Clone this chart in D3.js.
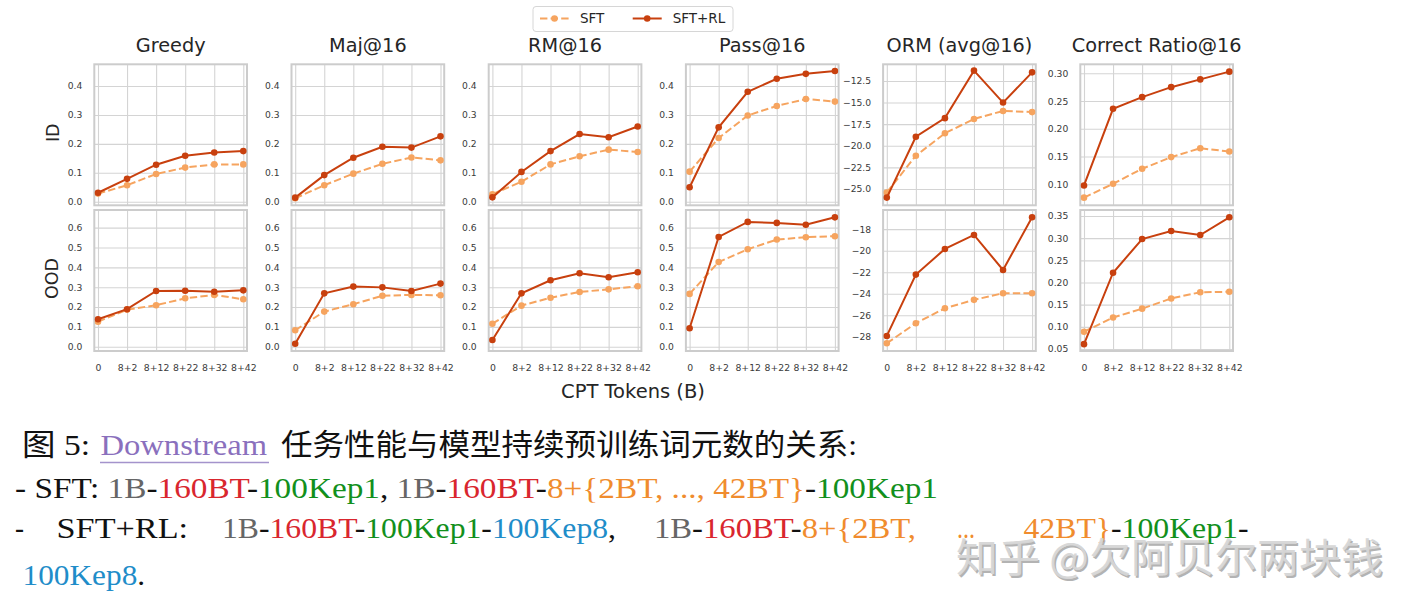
<!DOCTYPE html>
<html>
<head>
<meta charset="utf-8">
<script src="https://cdn.jsdelivr.net/npm/d3@7"></script>
<style>
  html, body { margin: 0; padding: 0; background: #fff; }
  svg { display: block; }
</style>
</head>
<body>
<svg id="chart" width="1420" height="616"></svg>
<script>
// ---------------- DATA ----------------
const categories = ["0", "8+2", "8+12", "8+22", "8+32", "8+42"];
const metrics = ["Greedy", "Maj@16", "RM@16", "Pass@16", "ORM (avg@16)", "Correct Ratio@16"];
const rowLabels = ["ID", "OOD"];
const seriesNames = ["SFT", "SFT+RL"];

// ID row (one inner array per metric, in metrics order)
const sftID = [
  [0.028, 0.057, 0.096, 0.118, 0.129, 0.129],
  [0.012, 0.057, 0.097, 0.131, 0.153, 0.143],
  [0.026, 0.069, 0.129, 0.157, 0.180, 0.172],
  [0.104, 0.220, 0.298, 0.331, 0.355, 0.346],
  [-25.4, -21.15, -18.55, -16.9, -15.97, -16.1],
  [0.076, 0.101, 0.128, 0.149, 0.165, 0.159]
];
const rlID = [
  [0.031, 0.079, 0.128, 0.159, 0.170, 0.175],
  [0.014, 0.092, 0.152, 0.190, 0.187, 0.226],
  [0.015, 0.103, 0.175, 0.234, 0.223, 0.260],
  [0.050, 0.257, 0.380, 0.425, 0.442, 0.452],
  [-26.0, -18.95, -16.8, -11.3, -15.0, -11.5],
  [0.098, 0.236, 0.257, 0.275, 0.289, 0.303]
];
// OOD row
const sftOOD = [
  [0.126, 0.187, 0.209, 0.244, 0.261, 0.239],
  [0.083, 0.177, 0.214, 0.257, 0.261, 0.259],
  [0.116, 0.207, 0.247, 0.276, 0.289, 0.305],
  [0.266, 0.427, 0.491, 0.540, 0.552, 0.557],
  [-28.6, -26.74, -25.35, -24.57, -23.95, -23.95],
  [0.089, 0.121, 0.141, 0.164, 0.178, 0.179]
];
const rlOOD = [
  [0.138, 0.189, 0.281, 0.282, 0.277, 0.284],
  [0.015, 0.269, 0.303, 0.299, 0.281, 0.318],
  [0.034, 0.269, 0.335, 0.370, 0.350, 0.375],
  [0.093, 0.553, 0.629, 0.624, 0.615, 0.652],
  [-27.92, -22.22, -19.84, -18.54, -21.79, -16.9],
  [0.061, 0.222, 0.298, 0.316, 0.307, 0.347]
];

// axis limits and ticks
const yLimID = [[-0.0124, 0.475], [-0.0124, 0.475], [-0.0124, 0.475], [-0.0124, 0.475], [-26.89, -10.57], [0.0622, 0.3162]];
const yLimOOD = [[-0.0217, 0.689], [-0.0217, 0.689], [-0.0217, 0.689], [-0.0217, 0.689], [-29.32, -16.22], [0.0455, 0.3635]];
const ticksShareID = [0, 0.1, 0.2, 0.3, 0.4];
const ticksOrmID = [-25, -22.5, -20, -17.5, -15, -12.5];
const ticksCrID = [0.10, 0.15, 0.20, 0.25, 0.30];
const ticksShareOOD = [0, 0.1, 0.2, 0.3, 0.4, 0.5, 0.6];
const ticksOrmOOD = [-28, -26, -24, -22, -20, -18];
const ticksCrOOD = [0.05, 0.10, 0.15, 0.20, 0.25, 0.30, 0.35];
const fmtID = [".1f", ".1f", ".1f", ".1f", ".1f", ".2f"];
const fmtOOD = [".1f", ".1f", ".1f", ".1f", "d", ".2f"];

// ---------------- STYLE / LAYOUT ----------------
const colSFT = "#f6a45f";
const colRL = "#c8400e";
const gridCol = "#d4d4d4";
const spineCol = "#cccccc";
const textCol = "#262626";
const tickCol = "#3a3a3a";
const sans = "'DejaVu Sans', sans-serif";

const panelLeft0 = 94.3, panelStep = 197.2, panelW = 152.7, panelH = 141;
const rowTops = [64.3, 210];
const xPad = 3.7;

const svg = d3.select("#chart");

const rowsData = [
  { sft: sftID, rl: rlID, lim: yLimID, ticks: [ticksShareID, ticksShareID, ticksShareID, ticksShareID, ticksOrmID, ticksCrID], fmt: fmtID },
  { sft: sftOOD, rl: rlOOD, lim: yLimOOD, ticks: [ticksShareOOD, ticksShareOOD, ticksShareOOD, ticksShareOOD, ticksOrmOOD, ticksCrOOD], fmt: fmtOOD }
];

rowsData.forEach((row, r) => {
  metrics.forEach((m, c) => {
    const L = panelLeft0 + c * panelStep;
    const T = rowTops[r];
    const x = d3.scalePoint().domain(categories).range([L + xPad, L + panelW - xPad]);
    const y = d3.scaleLinear().domain(row.lim[c]).range([T + panelH, T]);
    const g = svg.append("g");

    const clipId = `clip-${r}-${c}`;
    svg.append("clipPath").attr("id", clipId)
      .append("rect").attr("x", L).attr("y", T).attr("width", panelW).attr("height", panelH);

    // horizontal grid + y tick labels
    const yAxis = d3.axisLeft(y).tickValues(row.ticks[c]).tickFormat(d3.format(row.fmt[c]))
      .tickSize(-panelW).tickPadding(12);
    const ya = g.append("g").attr("transform", `translate(${L},0)`).call(yAxis);
    ya.select(".domain").remove();
    ya.selectAll(".tick line").attr("stroke", gridCol).attr("stroke-width", 1.1);
    ya.selectAll(".tick text").attr("fill", tickCol).attr("font-family", sans).attr("font-size", 9.2);

    // vertical grid + x tick labels
    const xAxis = d3.axisBottom(x).tickSize(-panelH).tickPadding(13);
    const xa = g.append("g").attr("transform", `translate(0,${T + panelH})`).call(xAxis);
    xa.select(".domain").remove();
    xa.selectAll(".tick line").attr("stroke", gridCol).attr("stroke-width", 1.1);
    if (r === 1) {
      xa.selectAll(".tick text").attr("fill", tickCol).attr("font-family", sans).attr("font-size", 9.3);
    } else {
      xa.selectAll(".tick text").remove();
    }

    // frame
    g.append("rect").attr("x", L).attr("y", T).attr("width", panelW).attr("height", panelH)
      .attr("fill", "none").attr("stroke", spineCol).attr("stroke-width", 2);

    // series
    const line = d3.line().x((d, i) => x(categories[i])).y(d => y(d));
    const plot = g.append("g").attr("clip-path", `url(#${clipId})`);
    const series = [
      { vals: row.sft[c], col: colSFT, dash: "7.4,3.2" },
      { vals: row.rl[c], col: colRL, dash: null }
    ];
    series.forEach(s => {
      plot.append("path").datum(s.vals).attr("d", line)
        .attr("fill", "none").attr("stroke", s.col).attr("stroke-width", 2)
        .attr("stroke-dasharray", s.dash);
      plot.selectAll(null).data(s.vals).enter().append("circle")
        .attr("cx", (d, i) => x(categories[i])).attr("cy", d => y(d)).attr("r", 3.3)
        .attr("fill", s.col);
    });

    if (r === 0) {
      svg.append("text").attr("x", L + panelW / 2).attr("y", 51.5)
        .attr("text-anchor", "middle").attr("font-family", sans).attr("font-size", 19.3)
        .attr("fill", textCol).text(m);
    }
  });
  const cy = rowTops[r] + panelH / 2 - 2;
  svg.append("text").attr("transform", `translate(${r === 0 ? 59 : 58.3},${cy}) rotate(-90)`)
    .attr("text-anchor", "middle").attr("font-family", sans).attr("font-size", 17.5)
    .attr("fill", textCol).text(rowLabels[r]);
});

// x label
svg.append("text").attr("x", 633).attr("y", 398).attr("text-anchor", "middle")
  .attr("font-family", sans).attr("font-size", 19.5).attr("fill", textCol).text("CPT Tokens (B)");

// legend
const lg = svg.append("g");
lg.append("rect").attr("x", 533).attr("y", 6.5).attr("width", 200).attr("height", 25).attr("rx", 3)
  .attr("fill", "#fff").attr("stroke", "#d6d6d6").attr("stroke-width", 1);
const legItems = [
  { name: seriesNames[0], col: colSFT, dash: "7.4,3.2", x0: 540 },
  { name: seriesNames[1], col: colRL, dash: null, x0: 632.7 }
];
legItems.forEach(it => {
  lg.append("line").attr("x1", it.x0).attr("x2", it.x0 + 29).attr("y1", 18.5).attr("y2", 18.5)
    .attr("stroke", it.col).attr("stroke-width", 2).attr("stroke-dasharray", it.dash);
  lg.append("circle").attr("cx", it.x0 + 14.5).attr("cy", 18.5).attr("r", 3.3).attr("fill", it.col);
  lg.append("text").attr("x", it.x0 + 40).attr("y", 23.4).attr("font-family", sans)
    .attr("font-size", 13.5).attr("fill", textCol).text(it.name);
});

// ---------------- CAPTION ----------------
const serif = "'Liberation Serif', 'Noto Sans CJK SC', serif";
const C = { k: "#111111", g: "#666666", r: "#d9262e", gr: "#12901c", o: "#f08c2e", b: "#1f8dc9", p: "#8a70bd" };
function capText(xPos, yPos, len, parts) {
  const t = svg.append("text").attr("x", xPos).attr("y", yPos).attr("font-family", serif)
    .attr("font-size", 30).attr("textLength", len).attr("lengthAdjust", "spacingAndGlyphs")
    .attr("xml:space", "preserve").style("white-space", "pre");
  parts.forEach(p => t.append("tspan").attr("fill", p[1]).text(p[0]));
  return t;
}
capText(22, 455, 68, [["图 5:", C.k]]);
capText(100.5, 455, 166.5, [["Downstream", C.p]]);
svg.append("line").attr("x1", 100).attr("x2", 269).attr("y1", 462.5).attr("y2", 462.5)
  .attr("stroke", "#a493cc").attr("stroke-width", 1.3);
capText(281, 455, 576, [["任务性能与模型持续预训练词元数的关系:", C.k]]);
capText(15, 498, 923, [
  ["- SFT: ", C.k], ["1B", C.g], ["-", C.k], ["160BT", C.r], ["-", C.k], ["100Kep1", C.gr], [", ", C.k],
  ["1B", C.g], ["-", C.k], ["160BT", C.r], ["-", C.k], ["8+{2BT, ..., 42BT}", C.o], ["-", C.k], ["100Kep1", C.gr]
]);
capText(15, 538, 9, [["-", C.k]]);
capText(56.6, 538, 131.5, [["SFT+RL:", C.k]]);
capText(222, 538, 394, [["1B", C.g], ["-", C.k], ["160BT", C.r], ["-", C.k], ["100Kep1", C.gr], ["-", C.k], ["100Kep8", C.b], [",", C.k]]);
capText(654, 538, 262, [["1B", C.g], ["-", C.k], ["160BT", C.r], ["-", C.k], ["8+{2BT,", C.o]]);
capText(957, 538, 18, [["...", C.o]]);
capText(1023.5, 538, 225, [["42BT}", C.o], ["-", C.k], ["100Kep1", C.gr], ["-", C.k]]);
capText(22.6, 585, 122.5, [["100Kep8", C.b], [".", C.k]]);

// watermark (overlaps the caption in the reference as well)
const wm = "知乎 @欠阿贝尔两块钱";
svg.append("text").attr("x", 957.5).attr("y", 573.5).attr("font-family", "'Noto Sans CJK SC', sans-serif")
  .attr("font-size", 40).attr("textLength", 427).attr("lengthAdjust", "spacingAndGlyphs")
  .attr("fill", "#9a9a9a").attr("opacity", 0.75).text(wm);
svg.append("text").attr("x", 956).attr("y", 572).attr("font-family", "'Noto Sans CJK SC', sans-serif")
  .attr("font-size", 40).attr("textLength", 427).attr("lengthAdjust", "spacingAndGlyphs")
  .attr("fill", "#d6d6d6").attr("opacity", 0.95).text(wm);
</script>
</body>
</html>
